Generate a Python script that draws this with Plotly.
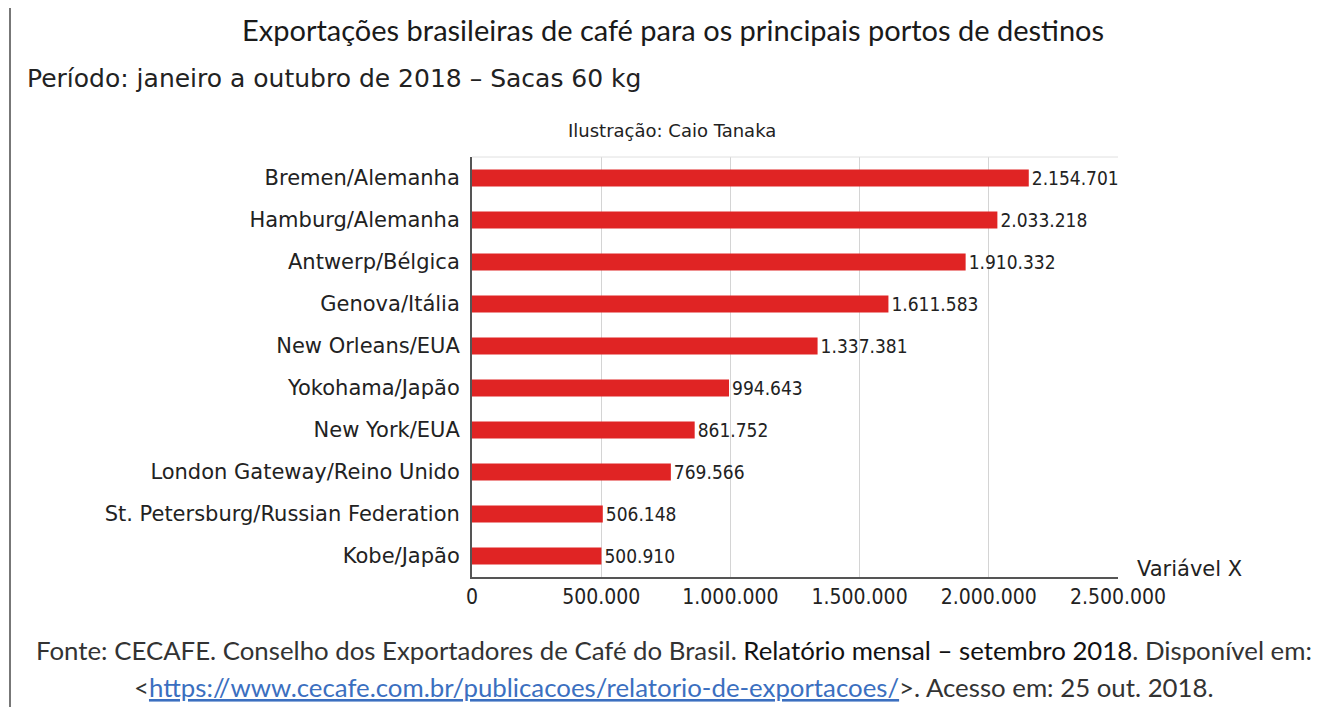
import plotly.graph_objects as go

ports = ["Bremen/Alemanha", "Hamburg/Alemanha", "Antwerp/Bélgica", "Genova/Itália",
         "New Orleans/EUA", "Yokohama/Japão", "New York/EUA", "London Gateway/Reino Unido",
         "St. Petersburg/Russian Federation", "Kobe/Japão"]
sacas = [2154701, 2033218, 1910332, 1611583, 1337381, 994643, 861752, 769566, 506148, 500910]
tick_vals = [0, 500000, 1000000, 1500000, 2000000, 2500000]

title = "Exportações brasileiras de café para os principais portos de destinos"
subtitle = "Período: janeiro a outubro de 2018 – Sacas 60 kg"
credit = "Ilustração: Caio Tanaka"
x_label = "Variável X"
source1 = ("Fonte: CECAFE. Conselho dos Exportadores de Café do Brasil. "
           "<span style='color:#111'>Relatório mensal – setembro 2018</span>. Disponível em:")
url = "https://www.cecafe.com.br/publicacoes/relatorio-de-exportacoes/"
source2 = "&lt;<span style='color:#3b6fc0'><u>" + url + "</u></span>&gt;. Acesso em: 25 out. 2018."

DIN = "DejaVu Sans"
DINC = "DejaVu Sans Condensed"

fig = go.Figure(go.Bar(
    x=sacas, y=ports, orientation="h",
    marker=dict(color="#e02424", line=dict(width=0)),
    width=0.4,
    text=sacas, texttemplate="%{x:,}", textposition="outside",
    constraintext="none",
    textfont=dict(family=DINC, size=19, color="#222"),
    cliponaxis=False,
))

# page has an 8px body margin; figure coordinates = page coordinates - 8
fig.update_layout(
    width=1317, height=699,
    separators=",.",
    paper_bgcolor="white", plot_bgcolor="white",
    margin=dict(l=464, r=207, t=149, b=130),
    showlegend=False,
    xaxis=dict(range=[0, 2500000], tickvals=tick_vals, tickformat=",",
               showgrid=True, gridcolor="#d4d4d4", gridwidth=1,
               zeroline=False, showline=True, linecolor="#555", linewidth=2,
               ticks="", tickfont=dict(family=DINC, size=21, color="#222"),
               fixedrange=True),
    yaxis=dict(categoryorder="array", categoryarray=ports, autorange="reversed",
               showline=True, linecolor="#555", linewidth=2, ticks="",
               ticklabelstandoff=6,
               tickfont=dict(family=DIN, size=21, color="#222"),
               fixedrange=True),
    font=dict(family=DIN, color="#222"),
)

anns = [
    dict(text=title, x=673, y=30, font=dict(family="Lato", size=29, color="#1a1a1a")),
    dict(text=subtitle, x=25, y=78, xanchor="left", font=dict(family=DIN, size=25, color="#222")),
    dict(text=credit, x=672, y=130, font=dict(family=DIN, size=18, color="#222")),
    dict(text=x_label, x=1135, y=569, xanchor="left", font=dict(family=DIN, size=21, color="#222")),
    dict(text=source1, x=674, y=650, font=dict(family="Lato", size=25.8, color="#333")),
    dict(text=source2, x=674, y=687, font=dict(family="Lato", size=25.8, color="#333")),
]
for a in anns:
    fig.add_annotation(xref="paper", yref="paper", showarrow=False,
                       x=(a["x"] - 472) / (1118 - 472),
                       y=(577 - a["y"]) / (577 - 157),
                       xanchor=a.get("xanchor", "center"), yanchor="middle",
                       text=a["text"], font=a["font"])

# light top frame line and left page border
fig.add_shape(type="line", xref="paper", yref="paper", x0=0, x1=1, y0=1, y1=1,
              line=dict(color="#e0e0e0", width=1))
fig.add_shape(type="line", xref="paper", yref="paper",
              x0=(10 - 472) / (1118 - 472), x1=(10 - 472) / (1118 - 472),
              y0=(577 - 4) / 420, y1=(577 - 707) / 420,
              line=dict(color="#777", width=2))

fig.write_html("out.html")
